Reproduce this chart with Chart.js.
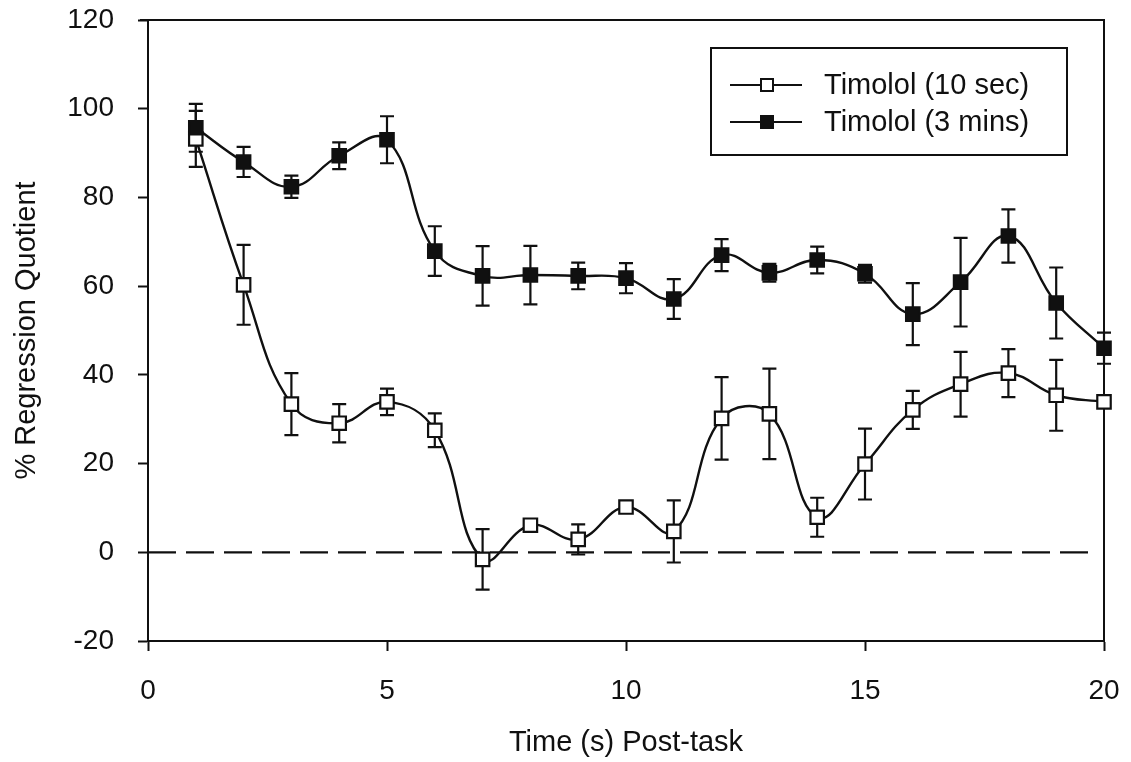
<!DOCTYPE html>
<html>
<head>
<meta charset="utf-8">
<title>% Regression Quotient – Timolol</title>
<script src="https://cdn.jsdelivr.net/npm/chart.js@4/dist/chart.umd.min.js"></script>
<style>
  html, body { margin: 0; padding: 0; background: #ffffff; }
  #wrap { width: 1131px; height: 762px; }
</style>
</head>
<body>
<div id="wrap"><canvas id="chart" width="1131" height="762"></canvas></div>
<script>
// Time points (s) after the task
const times = [1, 2, 3, 4, 5, 6, 7, 8, 9, 10, 11, 12, 13, 14, 15, 16, 17, 18, 19, 20];

// Timolol applied for 10 sec: mean and error
const timolol10sec = [93.2, 60.3, 33.4, 29.1, 33.9, 27.5, -1.6, 6.1, 2.9, 10.2,
                      4.7, 30.2, 31.2, 7.9, 19.9, 32.1, 37.9, 40.4, 35.4, 33.9];
const timolol10secErr = [6.3, 9.0, 7.0, 4.3, 3.0, 3.8, 6.8, 1.0, 3.4, 1.0,
                         7.0, 9.3, 10.2, 4.4, 8.0, 4.3, 7.3, 5.4, 8.0, 1.0];

// Timolol applied for 3 mins: mean and error
const timolol3min = [95.7, 88.0, 82.4, 89.4, 93.0, 67.9, 62.3, 62.5, 62.3, 61.8,
                     57.1, 67.0, 63.0, 65.9, 62.8, 53.7, 60.9, 71.3, 56.2, 46.0];
const timolol3minErr = [5.4, 3.4, 2.5, 3.0, 5.3, 5.6, 6.7, 6.6, 3.0, 3.4,
                        4.5, 3.6, 2.0, 3.0, 2.0, 7.0, 10.0, 6.0, 8.0, 3.5];

// Zero reference line
const zeroLineX = [0, 19.7];
const zeroLineY = [0, 0];

// Axis tick settings
const xTicks = { min: 0, max: 20, step: 5 };
const yTicks = { min: -20, max: 120, step: 20 };

const seriesLabels = ['Timolol (10 sec)', 'Timolol (3 mins)'];

const INK = '#101010';
const FONT = "'Liberation Sans', Arial, Helvetica, sans-serif";

const toPoints = (xs, ys) => xs.map((x, i) => ({ x: x, y: ys[i] }));

// Vertical error bars with caps, drawn underneath lines and markers
const errorBars = {
  id: 'errorBars',
  beforeDatasetsDraw(chart) {
    const { ctx } = chart;
    const xs = chart.scales.x, ys = chart.scales.y;
    ctx.save();
    ctx.strokeStyle = INK;
    ctx.lineWidth = 2.2;
    const cap = 7;
    chart.data.datasets.forEach(ds => {
      if (!ds.errors) return;
      ds.data.forEach((p, i) => {
        const e = ds.errors[i];
        const px = xs.getPixelForValue(p.x);
        const top = ys.getPixelForValue(p.y + e);
        const bot = ys.getPixelForValue(p.y - e);
        ctx.beginPath();
        ctx.moveTo(px, top); ctx.lineTo(px, bot);
        ctx.moveTo(px - cap, top); ctx.lineTo(px + cap, top);
        ctx.moveTo(px - cap, bot); ctx.lineTo(px + cap, bot);
        ctx.stroke();
      });
    });
    ctx.restore();
  }
};

// Top and right edges of the plot frame
const frame = {
  id: 'frame',
  beforeDatasetsDraw(chart) {
    const { ctx, chartArea: a } = chart;
    ctx.save();
    ctx.strokeStyle = INK;
    ctx.lineWidth = 2;
    ctx.beginPath();
    ctx.moveTo(a.left - 8, a.top);
    ctx.lineTo(a.right, a.top);
    ctx.lineTo(a.right, a.bottom);
    ctx.stroke();
    ctx.restore();
  }
};

// Boxed legend inside the upper-right corner of the plot
const boxLegend = {
  id: 'boxLegend',
  afterDraw(chart) {
    const { ctx, chartArea: a } = chart;
    const sets = chart.data.datasets.filter(d => d.errors);
    const boxRight = a.right - 37, boxTop = a.top + 28;
    const boxW = 356, boxH = 107;
    const boxLeft = boxRight - boxW;
    ctx.save();
    ctx.fillStyle = '#ffffff';
    ctx.fillRect(boxLeft, boxTop, boxW, boxH);
    ctx.strokeStyle = INK;
    ctx.lineWidth = 2;
    ctx.strokeRect(boxLeft, boxTop, boxW, boxH);
    ctx.font = '29px ' + FONT;
    ctx.textBaseline = 'middle';
    ctx.textAlign = 'left';
    sets.forEach((ds, i) => {
      const cy = boxTop + 37 + i * 37;
      const x0 = boxLeft + 19, x1 = boxLeft + 91, mx = boxLeft + 56;
      ctx.lineWidth = 1.8;
      ctx.strokeStyle = INK;
      ctx.beginPath(); ctx.moveTo(x0, cy); ctx.lineTo(x1, cy); ctx.stroke();
      const s = 12;
      ctx.fillStyle = ds.pointBackgroundColor;
      ctx.fillRect(mx - s / 2, cy - s / 2, s, s);
      ctx.lineWidth = 2;
      ctx.strokeRect(mx - s / 2, cy - s / 2, s, s);
      ctx.fillStyle = INK;
      ctx.fillText(ds.label, boxLeft + 113, cy + 1);
    });
    ctx.restore();
  }
};

new Chart(document.getElementById('chart'), {
  type: 'line',
  data: {
    datasets: [
      {
        label: seriesLabels[0],
        data: toPoints(times, timolol10sec),
        errors: timolol10secErr,
        borderColor: INK,
        borderWidth: 2.4,
        tension: 0.42,
        pointStyle: 'rect',
        pointRadius: 9.5,
        pointBorderWidth: 2.2,
        pointBorderColor: INK,
        pointBackgroundColor: '#ffffff',
        clip: false,
        order: 2
      },
      {
        label: seriesLabels[1],
        data: toPoints(times, timolol3min),
        errors: timolol3minErr,
        borderColor: INK,
        borderWidth: 2.4,
        tension: 0.42,
        pointStyle: 'rect',
        pointRadius: 9.5,
        pointBorderWidth: 2.2,
        pointBorderColor: INK,
        pointBackgroundColor: INK,
        clip: false,
        order: 1
      },
      {
        label: 'zero',
        data: toPoints(zeroLineX, zeroLineY),
        borderColor: INK,
        borderWidth: 2.2,
        borderDash: [28, 10],
        pointRadius: 0,
        tension: 0,
        order: 3
      }
    ]
  },
  options: {
    responsive: false,
    animation: false,
    layout: { padding: { left: 0, right: 27, top: 20, bottom: 0 } },
    plugins: {
      legend: { display: false },
      tooltip: { enabled: false }
    },
    scales: {
      x: {
        type: 'linear',
        min: xTicks.min,
        max: xTicks.max,
        afterFit(s) { s.height = 121; s.paddingLeft = 0; s.paddingRight = 0; },
        ticks: {
          stepSize: xTicks.step,
          color: INK,
          font: { family: FONT, size: 28 },
          padding: 23,
          maxRotation: 0
        },
        grid: {
          drawOnChartArea: false,
          drawTicks: true,
          tickLength: 10,
          tickWidth: 2,
          tickColor: INK
        },
        border: { display: true, color: INK, width: 2 },
        title: {
          display: true,
          text: 'Time (s) Post-task',
          color: INK,
          font: { family: FONT, size: 29 },
          padding: { top: 0, bottom: 2 }
        }
      },
      y: {
        type: 'linear',
        min: yTicks.min,
        max: yTicks.max,
        afterFit(s) { s.width = 148; s.paddingTop = 0; s.paddingBottom = 0; },
        ticks: {
          stepSize: yTicks.step,
          color: INK,
          font: { family: FONT, size: 28 },
          padding: 24
        },
        grid: {
          drawOnChartArea: false,
          drawTicks: true,
          tickLength: 10,
          tickWidth: 2,
          tickColor: INK
        },
        border: { display: true, color: INK, width: 2 },
        title: {
          display: true,
          text: '% Regression Quotient',
          color: INK,
          font: { family: FONT, size: 29 },
          padding: { top: 10, bottom: 0 }
        }
      }
    }
  },
  plugins: [frame, errorBars, boxLegend]
});
</script>
</body>
</html>
